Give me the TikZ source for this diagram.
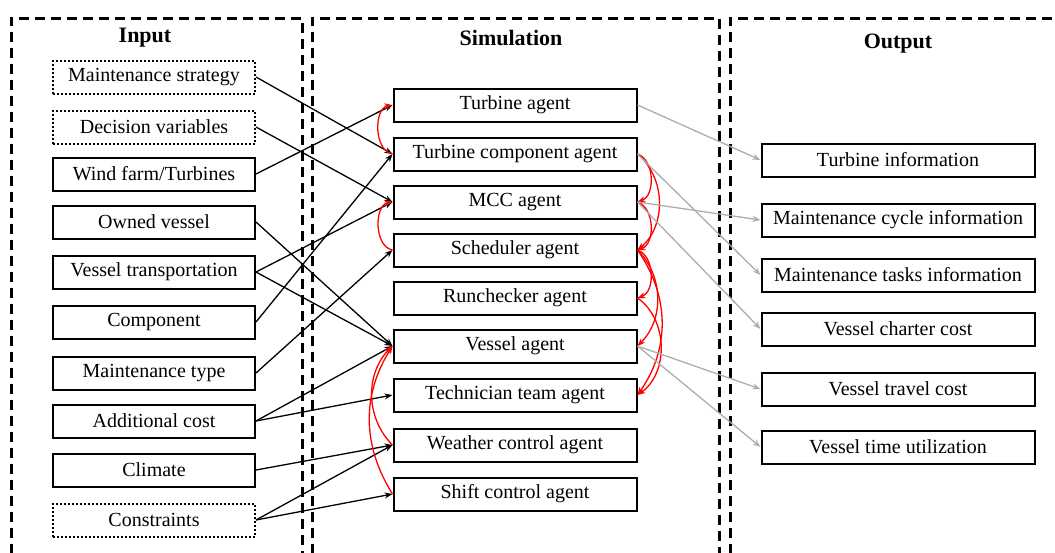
\documentclass[tikz,border=0pt]{standalone}
\usepackage{fontspec}
\setmainfont{Liberation Serif}
\usetikzlibrary{arrows.meta}
\tikzset{
	inbox/.style={draw, line width=2pt, minimum width=202pt, minimum height=33pt, inner sep=0pt, font=\fontsize{20}{24}\selectfont},
	inboxdot/.style={inbox, dash pattern=on 2pt off 2pt},
	agent/.style={inbox, minimum width=243pt},
	outbox/.style={inbox, minimum width=273pt},
	panel/.style={line width=3pt, dash pattern=on 10pt off 6pt},
	title/.style={font=\fontsize{22}{26}\selectfont\bfseries},
	feed/.style={-{Stealth[length=8pt,width=6pt]}, line width=1.3pt},
	msg/.style={feed, red},
	info/.style={-{Stealth[length=8pt,width=6pt]}, line width=1.3pt, black!32},
}
\begin{document}
\begin{tikzpicture}[x=1pt,y=-1pt]
	\useasboundingbox (0,0) rectangle (1055,552);
	\clip (0,0) rectangle (1055,552);
	\draw[panel] (11,570) -- (11,18) -- (302,18) -- (302,570);
	\draw[panel] (312,570) -- (312,18) -- (719,18) -- (719,570);
	\draw[panel] (730,570) -- (730,18) -- (1070,18);
	\node[title] (tin) at (145,38) {Input};
	\node[title] (tsim) at (511,38) {Simulation};
	\node[title] (tout) at (898,44) {Output};

	\node[inboxdot] (strategy) at (154,77) {Maintenance strategy};
	\node[inboxdot] (decision) at (154,127) {Decision variables};
	\node[inbox] (farm) at (154,174) {Wind farm/Turbines};
	\node[inbox] (owned) at (154,222) {Owned vessel};
	\node[inbox] (transport) at (154,272) {Vessel transportation};
	\node[inbox] (component) at (154,322) {Component};
	\node[inbox] (mtype) at (154,373) {Maintenance type};
	\node[inbox] (addcost) at (154,421) {Additional cost};
	\node[inbox] (climate) at (154,470) {Climate};
	\node[inboxdot] (constraints) at (154,520) {Constraints};

	\node[agent] (turbine) at (515,105) {Turbine agent};
	\node[agent] (tcomp) at (515,154) {Turbine component agent};
	\node[agent] (mcc) at (515,202) {MCC agent};
	\node[agent] (sched) at (515,250) {Scheduler agent};
	\node[agent] (runcheck) at (515,298) {Runchecker agent};
	\node[agent] (vessel) at (515,346) {Vessel agent};
	\node[agent] (techteam) at (515,395) {Technician team agent};
	\node[agent] (weather) at (515,445) {Weather control agent};
	\node[agent] (shift) at (515,494) {Shift control agent};

	\node[outbox] (tinfo) at (898,160) {Turbine information};
	\node[outbox] (cycinfo) at (898,220) {Maintenance cycle information};
	\node[outbox] (taskinfo) at (898,275) {Maintenance tasks information};
	\node[outbox] (charter) at (898,329) {Vessel charter cost};
	\node[outbox] (travel) at (898,389) {Vessel travel cost};
	\node[outbox] (util) at (898,447) {Vessel time utilization};

	\draw[feed] (strategy.east) -- (tcomp.west);
	\draw[feed] (decision.east) -- (mcc.west);
	\draw[feed] (farm.east) -- (turbine.west);
	\draw[feed] (owned.east) -- (vessel.west);
	\draw[feed] (transport.east) -- (mcc.west);
	\draw[feed] (transport.east) -- (vessel.west);
	\draw[feed] (component.east) -- (tcomp.west);
	\draw[feed] (mtype.east) -- (sched.west);
	\draw[feed] (addcost.east) -- (vessel.west);
	\draw[feed] (addcost.east) -- (techteam.west);
	\draw[feed] (climate.east) -- (weather.west);
	\draw[feed] (constraints.east) -- (weather.west);
	\draw[feed] (constraints.east) -- (shift.west);

	\draw[msg] (tcomp.west) to[bend left=80] (turbine.west);
	\draw[msg] (sched.west) to[bend left=80] (mcc.west);
	\draw[msg] (weather.west) to[bend left=45] (vessel.west);
	\draw[msg] (shift.west) to[bend left=32] (vessel.west);
	\draw[msg] (tcomp.east) to[bend left=70] (mcc.east);
	\draw[msg] (tcomp.east) to[bend left=50] (sched.east);
	\draw[msg] (mcc.east) to[bend left=70] (sched.east);
	\draw[msg] (sched.east) to[bend left=70] (runcheck.east);
	\draw[msg] (sched.east) to[bend left=45] (vessel.east);
	\draw[msg] (sched.east) to[bend left=35] (techteam.east);
	\draw[msg] (runcheck.east) to[bend left=55] (techteam.east);

	\draw[info] (turbine.east) -- (tinfo.west);
	\draw[info] (tcomp.east) -- (taskinfo.west);
	\draw[info] (mcc.east) -- (cycinfo.west);
	\draw[info] (mcc.east) -- (charter.west);
	\draw[info] (vessel.east) -- (travel.west);
	\draw[info] (vessel.east) -- (util.west);
\end{tikzpicture}
\end{document}
